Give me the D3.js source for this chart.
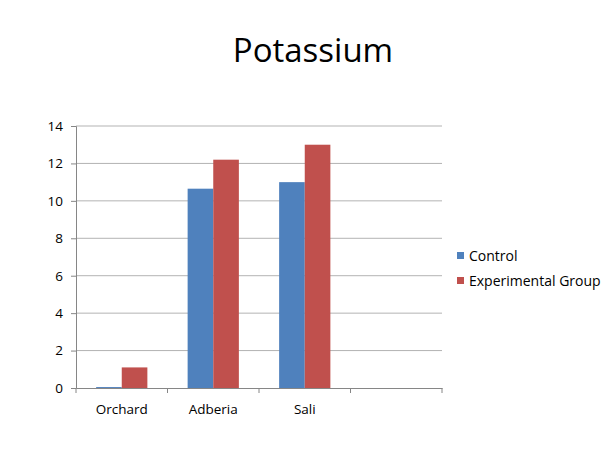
<!DOCTYPE html>
<html lang="en">
<head>
    <meta charset="UTF-8">
    <title>Potassium</title>
    <script src="https://d3js.org/d3.v7.min.js"></script>
    <style>
        body { margin: 0; background: white; }
        text { font-family: "Open Sans", sans-serif; fill: #000; }
    </style>
</head>
<body>
    <svg id="svg1" height="461" width="613" style="background: white"></svg>

    <script>
        // data ---------------------------------------------------------------
        const categories = ["Orchard", "Adberia", "Sali", ""];
        const seriesNames = ["Control", "Experimental Group"];
        const control = [0.05, 10.65, 11.0, null];
        const experimental = [1.1, 12.2, 13.0, null];
        const yTicks = [0, 2, 4, 6, 8, 10, 12, 14];
        const colors = ["#4F81BD", "#C0504D"];

        const svg = d3.select("svg#svg1");
        const margin = {top: 126, left: 76, right: 171, bottom: 73};
        const chartWidth = 613 - margin.left - margin.right;
        const chartHeight = 461 - margin.top - margin.bottom;

        const chart = svg.append("g")
            .attr("transform", `translate(${margin.left}, ${margin.top})`);

        // scales
        const xScale = d3.scaleBand().domain(categories).range([0, chartWidth]).padding(0);
        const groupScale = d3.scaleBand().domain(seriesNames)
            .range([xScale.bandwidth() * 0.22, xScale.bandwidth() * 0.78]);
        const yScale = d3.scaleLinear().domain([0, 14]).range([chartHeight, 0]);

        // gridlines
        chart.append("g")
            .selectAll("line")
            .data(yTicks.filter(d => d > 0))
            .join("line")
            .attr("x1", 0).attr("x2", chartWidth)
            .attr("y1", d => yScale(d)).attr("y2", d => yScale(d))
            .attr("stroke", "#b3b3b3").attr("stroke-width", 1);

        // bars
        const rows = categories.map((c, i) => ({cat: c, values: [control[i], experimental[i]]}));
        chart.append("g")
            .selectAll("g")
            .data(rows)
            .join("g")
            .attr("transform", d => `translate(${xScale(d.cat)}, 0)`)
            .selectAll("rect")
            .data(d => d.values.map((v, j) => ({name: seriesNames[j], value: v, j: j})).filter(e => e.value != null))
            .join("rect")
            .attr("x", d => groupScale(d.name))
            .attr("width", groupScale.bandwidth())
            .attr("y", d => yScale(d.value))
            .attr("height", d => chartHeight - yScale(d.value))
            .attr("fill", d => colors[d.j]);

        // axes
        const yAxis = d3.axisLeft(yScale).tickValues(yTicks).tickSize(5).tickPadding(8);
        const gy = chart.append("g").call(yAxis);
        gy.select(".domain").attr("stroke", "#868686");
        gy.selectAll(".tick line").attr("stroke", "#868686");
        gy.selectAll(".tick text").style("font-family", "Open Sans").style("font-size", "13.5px").attr("fill", "#000");

        const xAxis = d3.axisBottom(xScale).tickSize(0).tickPadding(16);
        const gx = chart.append("g").attr("transform", `translate(0, ${chartHeight})`).call(xAxis);
        gx.select(".domain").attr("stroke", "#868686");
        gx.selectAll(".tick text").style("font-family", "Open Sans").style("font-size", "13.5px").attr("fill", "#000");

        // category separators
        chart.append("g")
            .selectAll("line")
            .data(categories.map(c => xScale(c)).concat([chartWidth]))
            .join("line")
            .attr("x1", d => d).attr("x2", d => d)
            .attr("y1", chartHeight).attr("y2", chartHeight + 5)
            .attr("stroke", "#868686");

        // title
        svg.append("text")
            .text("Potassium")
            .attr("x", 313)
            .attr("y", 62)
            .attr("text-anchor", "middle")
            .style("font-size", "33px");

        // legend
        const legend = svg.append("g").attr("transform", "translate(457, 252)");
        seriesNames.forEach((name, i) => {
            legend.append("rect")
                .attr("x", 0).attr("y", i * 25)
                .attr("width", 7).attr("height", 7)
                .attr("fill", colors[i]);
            legend.append("text")
                .text(name)
                .attr("x", 12).attr("y", i * 25 + 9)
                .style("font-size", "14px");
        });
    </script>
</body>
</html>
